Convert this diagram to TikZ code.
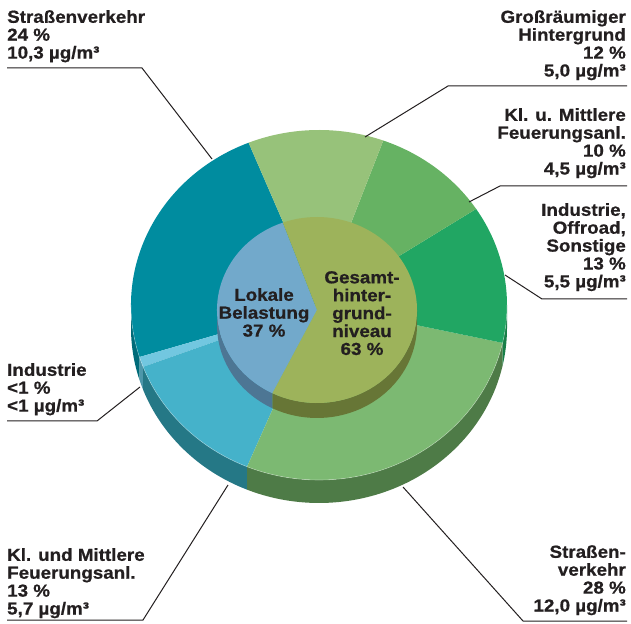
\documentclass[tikz,border=0pt]{standalone}
\usepackage{fontspec}
\newfontfamily\lab[FakeStretch=1.08, BoldFeatures={FakeBold=0.7}]{Liberation Sans}

% top faces
\definecolor{cTeal}{HTML}{008C9F}
\definecolor{cSliver}{HTML}{72C7E0}
\definecolor{cLBlue}{HTML}{45B2CA}
\definecolor{cLGreen}{HTML}{7CB972}
\definecolor{cGreen}{HTML}{21A663}
\definecolor{cMGreen}{HTML}{66B263}
\definecolor{cPGreen}{HTML}{97C27A}
\definecolor{cIBlue}{HTML}{72A9CB}
\definecolor{cIOlive}{HTML}{9DB35B}
% side faces
\definecolor{sTeal}{HTML}{006B79}
\definecolor{sSliver}{HTML}{4D97AA}
\definecolor{sLBlue}{HTML}{257886}
\definecolor{sLGreen}{HTML}{4E7B47}
\definecolor{sGreen}{HTML}{187F48}
\definecolor{sIBlue}{HTML}{4D7694}
\definecolor{sIOlive}{HTML}{677636}
\definecolor{ink}{HTML}{231F20}

% outer ring: radii 188/175, depth 23; inner pie: radii 100/93, depth 15
\newcommand\outertop[3]{\fill[#1] (O) -- ++(#2:188 and 175) arc[start angle=#2, end angle=#3, x radius=188, y radius=175] -- cycle;}
\newcommand\outerside[3]{\fill[#1] (O) ++(#2:188 and 175) arc[start angle=#2, end angle=#3, x radius=188, y radius=175] -- ++(0,-23) arc[start angle=#3, end angle=#2, x radius=188, y radius=175] -- cycle;}
\newcommand\innertop[3]{\fill[#1] (I) -- ++(#2:100 and 93) arc[start angle=#2, end angle=#3, x radius=100, y radius=93] -- cycle;}
\newcommand\innerside[3]{\fill[#1] (I) ++(#2:100 and 93) arc[start angle=#2, end angle=#3, x radius=100, y radius=93] -- ++(0,-15) arc[start angle=#3, end angle=#2, x radius=100, y radius=93] -- cycle;}

\tikzset{
  lbl/.style={font=\lab\bfseries\fontsize{17.4}{17.9}\selectfont, text=ink, inner sep=0pt},
  lead/.style={draw=ink, line width=1pt},
}

\begin{document}
\begin{tikzpicture}[x=1pt, y=1pt]
\useasboundingbox (0,0) rectangle (631,623);
\coordinate (O) at (319,318);
\coordinate (I) at (317,313);

% outer ring, front side band
\outerside{sTeal}{180}{197.3}
\outerside{sSliver}{197.3}{200.7}
\outerside{sLBlue}{200.7}{247.5}
\outerside{sLGreen}{247.5}{347.5}
\outerside{sGreen}{347.5}{360}

% outer ring, top face
\outertop{cTeal}{112}{197.3}
\outertop{cSliver}{197.3}{200.7}
\outertop{cLBlue}{200.7}{247.5}
\outertop{cLGreen}{247.5}{347.5}
\outertop{cGreen}{-12.5}{33.3}
\outertop{cMGreen}{33.3}{70}
\outertop{cPGreen}{70}{112}
\draw[white, opacity=0.35, line width=0.6pt] (O) ++(180:188 and 175) arc[start angle=180, end angle=360, x radius=188, y radius=175];

% inner pie, side band
\innerside{sIBlue}{180}{243.5}
\innerside{sIOlive}{243.5}{360}

% inner pie, top face
\innertop{cIBlue}{110}{243.5}
\innertop{cIOlive}{243.5}{470}

% inner labels
\node[lbl, align=center, anchor=north] (lokal) at (264,335) {Lokale\\Belastung\\37 \%};
\node[lbl, align=center, anchor=north] (gesamt) at (362,352) {Gesamt-\\hinter-\\grund-\\niveau\\63 \%};

% outer labels
\node[lbl, align=left, anchor=north west] (strA) at (7,613) {Straßenverkehr\\24 \%\\10,3 µg/m³};
\node[lbl, align=right, anchor=north east] (gross) at (626,613) {Großräumiger\\Hintergrund\\12 \%\\5,0 µg/m³};
\node[lbl, align=right, anchor=north east] (feuB) at (626,515) {Kl. u. Mittlere\\Feuerungsanl.\\10 \%\\4,5 µg/m³};
\node[lbl, align=right, anchor=north east] (indB) at (626,420) {Industrie,\\Offroad,\\Sonstige\\13 \%\\5,5 µg/m³};
\node[lbl, align=left, anchor=north west] (indA) at (7,260) {Industrie\\<1 \%\\<1 µg/m³};
\node[lbl, align=left, anchor=north west] (feuA) at (7,75) {Kl. und Mittlere\\Feuerungsanl.\\13 \%\\5,7 µg/m³};
\node[lbl, align=right, anchor=north east] (strB) at (626,78) {Straßen-\\verkehr\\28 \%\\12,0 µg/m³};

% leader line points
\coordinate (strA1) at (7,555);   \coordinate (strA2) at (142,555); \coordinate (strA3) at (212,464);
\coordinate (gross1) at (627,537); \coordinate (gross2) at (448,537); \coordinate (gross3) at (365,486);
\coordinate (feuB1) at (627,437); \coordinate (feuB2) at (500,437); \coordinate (feuB3) at (469,421);
\coordinate (indB1) at (627,324); \coordinate (indB2) at (542,324); \coordinate (indB3) at (505,348);
\coordinate (indA1) at (7,202);   \coordinate (indA2) at (97,202);  \coordinate (indA3) at (140,236);
\coordinate (feuA1) at (7,3);     \coordinate (feuA2) at (143,3);   \coordinate (feuA3) at (228,138);
\coordinate (strB1) at (627,2);   \coordinate (strB2) at (523,2);   \coordinate (strB3) at (403,136);

\draw[lead] (strA1) -- (strA2) -- (strA3);
\draw[lead] (gross1) -- (gross2) -- (gross3);
\draw[lead] (feuB1) -- (feuB2) -- (feuB3);
\draw[lead] (indB1) -- (indB2) -- (indB3);
\draw[lead] (indA1) -- (indA2) -- (indA3);
\draw[lead] (feuA1) -- (feuA2) -- (feuA3);
\draw[lead] (strB1) -- (strB2) -- (strB3);
\end{tikzpicture}
\end{document}
